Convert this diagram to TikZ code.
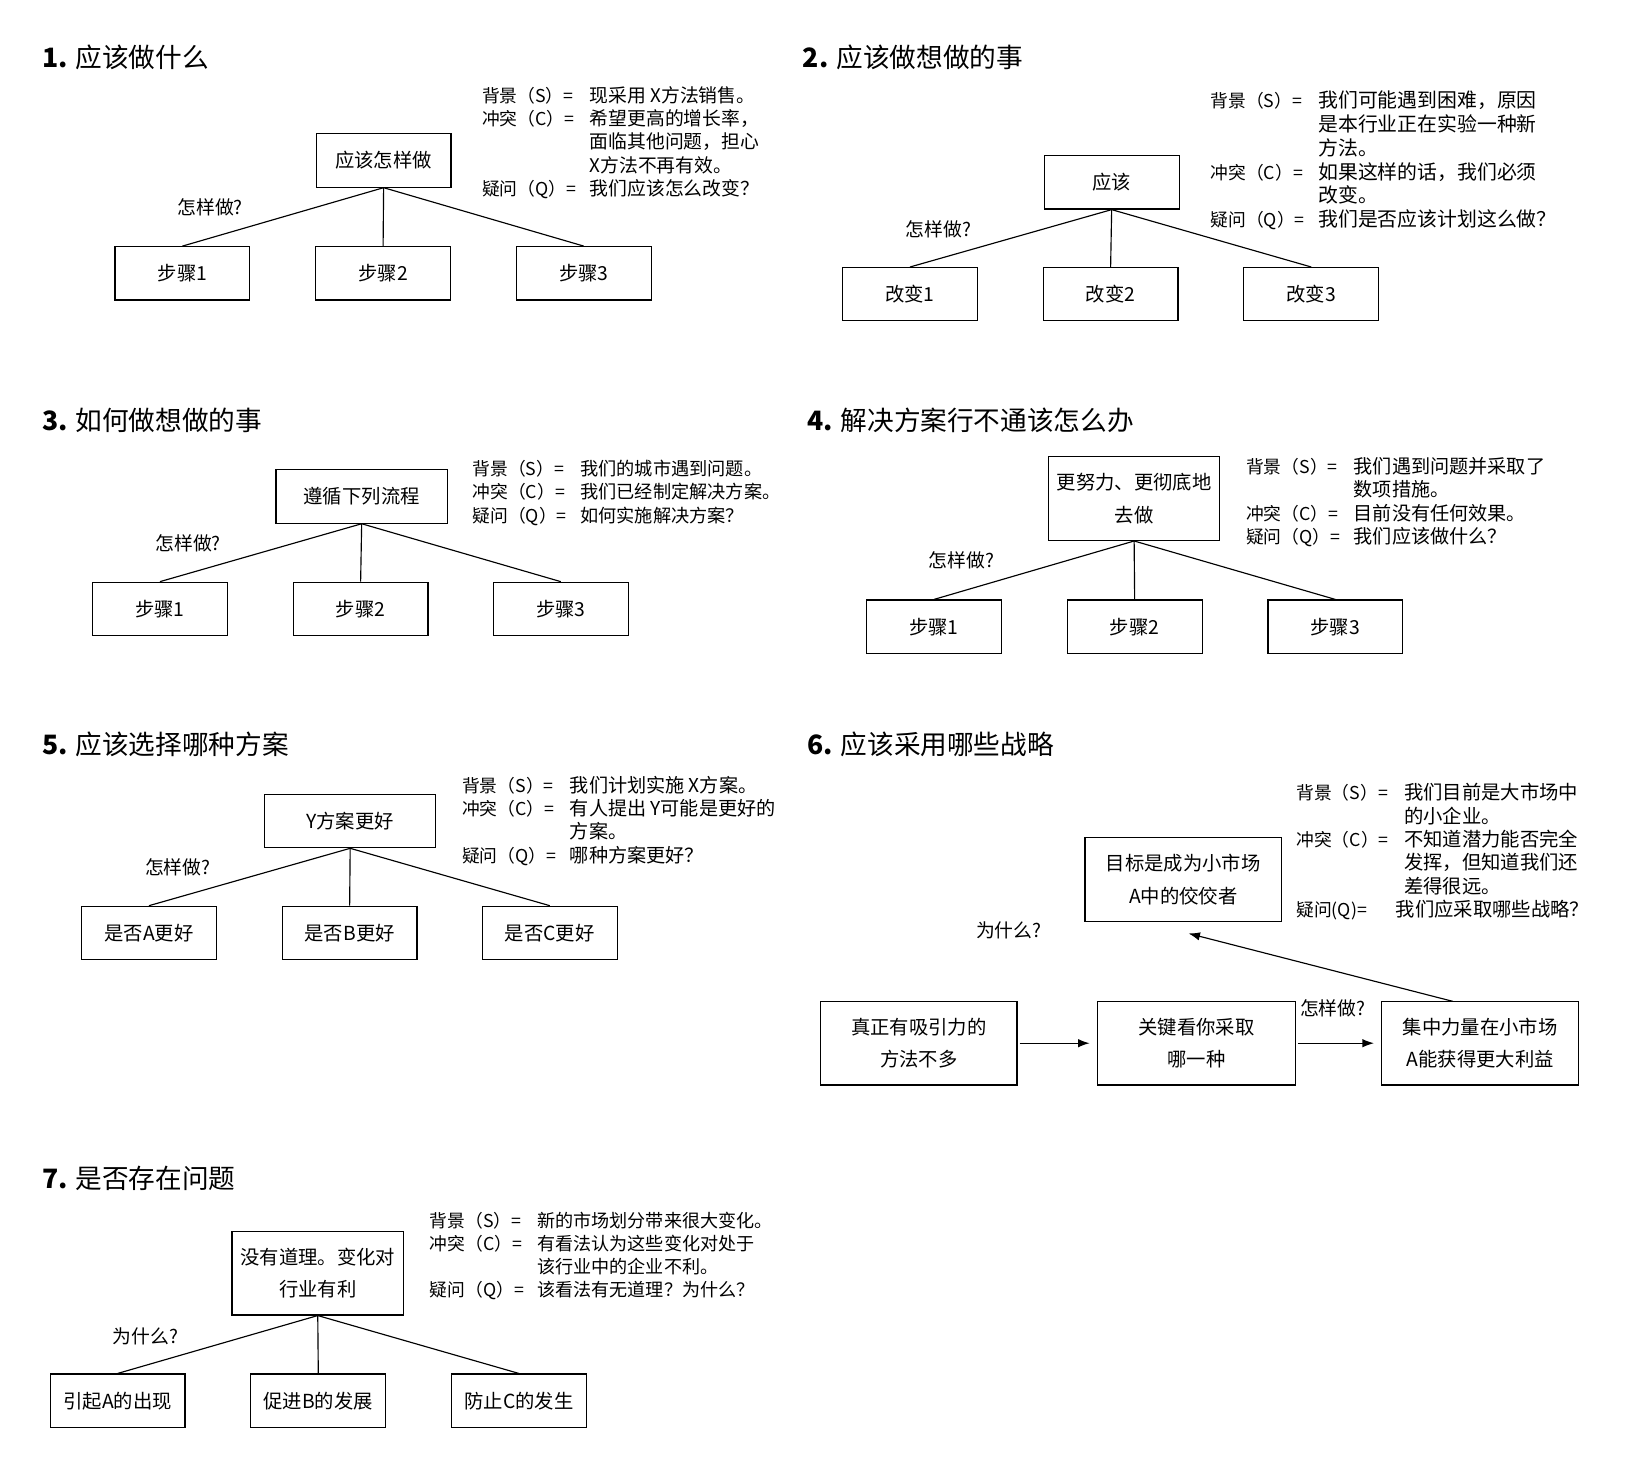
\documentclass[tikz,border=0pt]{standalone}
\usepackage{fontspec}
\usepackage{array}
\setmainfont{Noto Sans CJK SC}
\usetikzlibrary{arrows.meta}
\newcommand\scqlab[2][103pt]{\makebox[#1][l]{#2}}
\newcommand\scqtab[2]{\begin{tabular}[t]{@{}l@{}>{\fontsize{#1}{22.25}\selectfont}l@{}}#2\end{tabular}}
\begin{document}
\begin{tikzpicture}[x=1pt,y=-1pt,
  box/.style={draw,line width=1.1pt,inner sep=0pt,font=\fontsize{18.5}{31}\selectfont,align=center},
  sbox/.style={box,minimum width=129pt,minimum height=51pt},
  mbox/.style={box,minimum width=164pt,minimum height=51pt},
  tbox/.style={box,minimum width=164pt,minimum height=80pt},
  wbox/.style={box,minimum width=188pt,minimum height=80pt},
  link/.style={line width=1.1pt},
  arr/.style={line width=1.1pt,-{Latex[length=11pt,width=8pt]}},
  qlabel/.style={font=\fontsize{18}{20}\selectfont,inner sep=0pt},
  ttl/.style={anchor=base west,inner sep=0pt,font=\fontsize{25.5}{28}\selectfont},
  scq/.style={anchor=base west,inner sep=0pt,font=\fontsize{17}{22.25}\selectfont}
]
\fill[white] (0,0) rectangle (1568,1419);
\useasboundingbox (0,0) rectangle (1568,1419);

% ---------- Panel 1 ----------
\node[ttl] (t1) at (40,65) {\textbf{1.} 应该做什么};
\node[sbox] (p1t) at (367,153.5) {应该怎样做};
\node[sbox] (p1a) at (174.5,261.5) {步骤1};
\node[sbox] (p1b) at (366.5,261.5) {步骤2};
\node[sbox] (p1c) at (558.5,261.5) {步骤3};
\draw[link] (p1t.south) -- (p1a.north);
\draw[link] (p1t.south) -- (p1b.north);
\draw[link] (p1t.south) -- (p1c.north);
\node[qlabel] (q1) at (201,198) {怎样做?};
\node[scq] (s1) at (461,98) {\scqtab{18}{%
\scqlab{背景（S）=} & 现采用 X方法销售。\\
\scqlab{冲突（C）=} & 希望更高的增长率，\\
 & 面临其他问题，担心\\
 & X方法不再有效。\\
\scqlab{疑问（Q）=} & 我们应该怎么改变？}};

% ---------- Panel 2 ----------
\node[ttl] (t2) at (768,65) {\textbf{2.} 应该做想做的事};
\node[sbox] (p2t) at (1063.5,174.5) {应该};
\node[sbox] (p2a) at (870.5,281.5) {改变1};
\node[sbox] (p2b) at (1062.5,281.5) {改变2};
\node[sbox] (p2c) at (1254.5,281.5) {改变3};
\draw[link] (p2t.south) -- (p2a.north);
\draw[link] (p2t.south) -- (p2b.north);
\draw[link] (p2t.south) -- (p2c.north);
\node[qlabel] (q2) at (898,219) {怎样做?};
\node[scq] (s2) at (1158,103) {\scqtab{19}{%
\scqlab{背景（S）=} & 我们可能遇到困难，原因\\
 & 是本行业正在实验一种新\\
 & 方法。\\
\scqlab{冲突（C）=} & 如果这样的话，我们必须\\
 & 改变。\\
\scqlab{疑问（Q）=} & 我们是否应该计划这么做？}};

% ---------- Panel 3 ----------
\node[ttl] (t3) at (40,412) {\textbf{3.} 如何做想做的事};
\node[mbox] (p3t) at (346,475) {遵循下列流程};
\node[sbox] (p3a) at (153,582.5) {步骤1};
\node[sbox] (p3b) at (345,582.5) {步骤2};
\node[sbox] (p3c) at (536.5,582.5) {步骤3};
\draw[link] (p3t.south) -- (p3a.north);
\draw[link] (p3t.south) -- (p3b.north);
\draw[link] (p3t.south) -- (p3c.north);
\node[qlabel] (q3) at (180,520) {怎样做?};
\node[scq] (s3) at (452,455) {\scqtab{17.4}{%
\scqlab{背景（S）=} & 我们的城市遇到问题。\\
\scqlab{冲突（C）=} & 我们已经制定解决方案。\\
\scqlab{疑问（Q）=} & 如何实施解决方案？}};

% ---------- Panel 4 ----------
\node[ttl] (t4) at (772,412) {\textbf{4.} 解决方案行不通该怎么办};
\node[tbox] (p4t) at (1085,477) {更努力、更彻底地\\去做};
\node[sbox] (p4a) at (893.5,599.5) {步骤1};
\node[sbox] (p4b) at (1085.5,599.5) {步骤2};
\node[sbox] (p4c) at (1277.5,599.5) {步骤3};
\draw[link] (p4t.south) -- (p4a.north);
\draw[link] (p4t.south) -- (p4b.north);
\draw[link] (p4t.south) -- (p4c.north);
\node[qlabel] (q4) at (920,536) {怎样做?};
\node[scq] (s4) at (1192,453) {\scqtab{18.3}{%
\scqlab{背景（S）=} & 我们遇到问题并采取了\\
 & 数项措施。\\
\scqlab{冲突（C）=} & 目前没有任何效果。\\
\scqlab{疑问（Q）=} & 我们应该做什么？}};

% ---------- Panel 5 ----------
\node[ttl] (t5) at (40,722) {\textbf{5.} 应该选择哪种方案};
\node[mbox] (p5t) at (335,785.5) {Y方案更好};
\node[sbox] (p5a) at (142.5,892.5) {是否A更好};
\node[sbox] (p5b) at (334.5,892.5) {是否B更好};
\node[sbox] (p5c) at (526,892.5) {是否C更好};
\draw[link] (p5t.south) -- (p5a.north);
\draw[link] (p5t.south) -- (p5b.north);
\draw[link] (p5t.south) -- (p5c.north);
\node[qlabel] (q5) at (170,830) {怎样做?};
\node[scq] (s5) at (442,758) {\scqtab{18.3}{%
\scqlab{背景（S）=} & 我们计划实施 X方案。\\
\scqlab{冲突（C）=} & 有人提出 Y可能是更好的\\
 & 方案。\\
\scqlab{疑问（Q）=} & 哪种方案更好？}};

% ---------- Panel 6 ----------
\node[ttl] (t6) at (772,722) {\textbf{6.} 应该采用哪些战略};
\node[wbox] (g6) at (1132,841.5) {目标是成为小市场\\A中的佼佼者};
\node[wbox] (l6) at (879,998) {真正有吸引力的\\方法不多};
\node[wbox,minimum width=189pt] (m6) at (1144.5,998) {关键看你采取\\哪一种};
\node[wbox] (r6) at (1416,998) {集中力量在小市场\\A能获得更大利益};
\draw[arr,shorten <=2pt,shorten >=7pt] (l6.east) -- (m6.west);
\draw[arr,shorten <=2pt,shorten >=7pt] (m6.east) -- (r6.west);
\coordinate (d6s) at (1390,958);
\coordinate (d6e) at (1137,893);
\draw[arr] (d6s) -- (d6e);
\node[qlabel] (w6) at (965,890) {为什么?};
\node[qlabel] (h6) at (1275,965) {怎样做?};
\node[scq] (s6) at (1240,765) {\scqtab{18.5}{%
\scqlab{背景（S）=} & 我们目前是大市场中\\
 & 的小企业。\\
\scqlab{冲突（C）=} & 不知道潜力能否完全\\
 & 发挥，但知道我们还\\
 & 差得很远。\\
\multicolumn{2}{@{}l@{}}{\scqlab[95pt]{疑问(Q)=}\fontsize{18.5}{22.25}\selectfont 我们应采取哪些战略？}}};

% ---------- Panel 7 ----------
\node[ttl] (t7) at (40,1137) {\textbf{7.} 是否存在问题};
\node[tbox] (p7t) at (304,1218) {没有道理。变化对\\行业有利};
\node[sbox] (p7a) at (112.5,1340) {引起A的出现};
\node[sbox] (p7b) at (304.5,1340) {促进B的发展};
\node[sbox] (p7c) at (496.5,1340) {防止C的发生};
\draw[link] (p7t.south) -- (p7a.north);
\draw[link] (p7t.south) -- (p7b.north);
\draw[link] (p7t.south) -- (p7c.north);
\node[qlabel] (q7) at (139,1278) {为什么?};
\node[scq] (s7) at (411,1174) {\scqtab{17.3}{%
\scqlab{背景（S）=} & 新的市场划分带来很大变化。\\
\scqlab{冲突（C）=} & 有看法认为这些变化对处于\\
 & 该行业中的企业不利。\\
\scqlab{疑问（Q）=} & 该看法有无道理？为什么？}};
\end{tikzpicture}
\end{document}
